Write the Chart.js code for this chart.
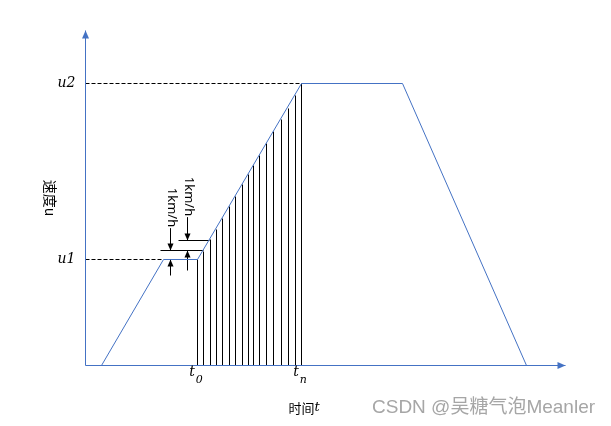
<!DOCTYPE html>
<html>
<head>
<meta charset="utf-8">
<script src="https://cdn.jsdelivr.net/npm/chart.js@4.4.1/dist/chart.umd.min.js"></script>
<style>
  html, body { margin: 0; padding: 0; background: #fff; }
</style>
</head>
<body>
<canvas id="chart" width="611" height="426"></canvas>
<script>
const BLUE = '#4472C4';

// axis ranges (time units, speed units)
const axisMaxT = 48;
const axisMaxV = 33.5;

// speed profile: accelerate, hold u1 briefly, accelerate to u2, cruise, brake
const profileT = [1.6, 7.8, 11.2, 21.6, 31.7, 44.1];
const profileV = [0, 10.6, 10.6, 28.2, 28.2, 0];

const u1 = 10.6, u2 = 28.2;
const t0 = 11.2, tn = 21.6;

// vertical steps between t0 and tn (one per 1km/h)
const stepT = [11.2, 11.8, 12.5, 13.1, 13.7, 14.4, 15.0, 15.7, 16.3, 16.8, 17.4, 18.1, 18.8, 19.6, 20.3, 21.0, 21.6];
const stepV = [10.6, 11.4, 12.6, 13.6, 14.7, 15.9, 16.9, 18.1, 19.1, 20.0, 21.0, 22.2, 23.4, 24.6, 25.7, 27.0, 28.2];

// tick labels
const speedLabels = ['u1', 'u2'];
const speedTicks = [u1, u2];
const timeSubs = ['0', 'n'];
const timeTicks = [t0, tn];

// 1km/h dimension marks
const markV = [11.5, 12.5];
const markFromT = [7.5, 9.3];
const markToT = [11.8, 12.4];
const dimT = [8.5, 10.2];
const dimLow = [u1, 11.5];
const dimHigh = [11.5, 12.5];
const dimTailTop = [13.7, 14.8];
const dimTailBottom = [9.0, 9.5];
const dimText = '1km/h';

function line(data, color, extra) {
  return Object.assign({
    data: data,
    showLine: true,
    borderColor: color,
    backgroundColor: color,
    borderWidth: 1,
    pointRadius: 0,
    fill: false,
    clip: false
  }, extra || {});
}

const datasets = [];

// axes with arrows
datasets.push(line([{x: 0, y: 0}, {x: 0, y: axisMaxV}], BLUE, {arrow: {len: 8, w: 7}}));
datasets.push(line([{x: 0, y: 0}, {x: axisMaxT, y: 0}], BLUE, {arrow: {len: 8, w: 7}}));

// profile
datasets.push(line(profileT.map((t, i) => ({x: t, y: profileV[i]})), BLUE));

// hatching
const hatch = [];
stepT.forEach((t, i) => {
  hatch.push({x: t, y: 0}, {x: t, y: stepV[i]}, {x: t, y: null});
});
datasets.push(line(hatch, '#000'));

// dashed guides to u1, u2
datasets.push(line([{x: 0, y: u2}, {x: tn, y: u2}], '#000', {borderDash: [4, 2]}));
datasets.push(line([{x: 0, y: u1}, {x: profileT[1], y: u1}], '#000', {borderDash: [4, 2]}));

// dimension marks
markV.forEach((v, i) => {
  datasets.push(line([{x: markFromT[i], y: v}, {x: markToT[i], y: v}], '#000'));
});
dimT.forEach((t, i) => {
  datasets.push(line([{x: t, y: dimTailTop[i]}, {x: t, y: dimHigh[i]}], '#000', {arrow: {len: 7, w: 6}}));
  datasets.push(line([{x: t, y: dimTailBottom[i]}, {x: t, y: dimLow[i]}], '#000', {arrow: {len: 7, w: 6}}));
});

const arrowHeads = {
  id: 'arrowHeads',
  afterDatasetsDraw(chart) {
    const ctx = chart.ctx;
    chart.data.datasets.forEach((ds, i) => {
      if (!ds.arrow) return;
      const pts = chart.getDatasetMeta(i).data;
      const a = pts[pts.length - 2], b = pts[pts.length - 1];
      const ang = Math.atan2(b.y - a.y, b.x - a.x);
      ctx.save();
      ctx.translate(b.x, b.y);
      ctx.rotate(ang);
      ctx.beginPath();
      ctx.moveTo(0, 0);
      ctx.lineTo(-ds.arrow.len, -ds.arrow.w / 2);
      ctx.lineTo(-ds.arrow.len, ds.arrow.w / 2);
      ctx.closePath();
      ctx.fillStyle = ds.borderColor;
      ctx.fill();
      ctx.restore();
    });
  }
};

const labels = {
  id: 'labels',
  afterDraw(chart) {
    const ctx = chart.ctx;
    const xs = chart.scales.x, ys = chart.scales.y;
    ctx.save();
    ctx.fillStyle = '#000';

    // u1, u2
    ctx.font = 'italic 14px "DejaVu Serif"';
    ctx.textAlign = 'right';
    ctx.textBaseline = 'middle';
    speedLabels.forEach((s, i) => ctx.fillText(s, xs.left - 10, ys.getPixelForValue(speedTicks[i])));

    // t0, tn
    timeTicks.forEach((t, i) => {
      const px = xs.getPixelForValue(t);
      ctx.font = 'italic 14px "DejaVu Serif"';
      const w1 = ctx.measureText('t').width;
      ctx.font = 'italic 11px "DejaVu Serif"';
      const w2 = ctx.measureText(timeSubs[i]).width;
      const left = px - (w1 + w2) / 2 - 2;
      ctx.textAlign = 'left';
      ctx.textBaseline = 'alphabetic';
      ctx.font = 'italic 14px "DejaVu Serif"';
      ctx.fillText('t', left, ys.bottom + 10);
      ctx.font = 'italic 11px "DejaVu Serif"';
      ctx.fillText(timeSubs[i], left + w1 + 1, ys.bottom + 17);
    });

    // axis titles
    ctx.font = '13px "Noto Sans CJK SC"';
    const wA = ctx.measureText('时间').width;
    ctx.font = 'italic 13px "DejaVu Serif"';
    const wB = ctx.measureText('t').width;
    let tx = 304 - (wA + wB) / 2;
    ctx.textAlign = 'left';
    ctx.textBaseline = 'middle';
    ctx.font = '13px "Noto Sans CJK SC"';
    ctx.fillText('时间', tx, 408);
    ctx.font = 'italic 13px "DejaVu Serif"';
    ctx.fillText('t', tx + wA, 408);

    ctx.save();
    ctx.translate(50, 198);
    ctx.rotate(Math.PI / 2);
    ctx.textAlign = 'center';
    ctx.textBaseline = 'middle';
    ctx.font = '14px "Noto Sans CJK SC"';
    ctx.fillText('速度u', 0, 0);
    ctx.restore();

    // 1km/h labels
    ctx.font = '13px "Noto Sans"';
    dimT.forEach((t, i) => {
      const px = xs.getPixelForValue(t) + 1;
      const py = ys.getPixelForValue(dimTailTop[i]) - 21;
      ctx.save();
      ctx.translate(px, py);
      ctx.rotate(Math.PI / 2);
      ctx.textAlign = 'center';
      ctx.textBaseline = 'middle';
      ctx.fillText(dimText, 0, 0);
      ctx.restore();
    });

    // watermark
    ctx.font = '19px "Liberation Sans", "Noto Sans CJK SC"';
    ctx.fillStyle = '#a6a6a6';
    ctx.textAlign = 'left';
    ctx.textBaseline = 'middle';
    ctx.fillText('CSDN @吴糖气泡Meanler', 372, 408);
    ctx.restore();
  }
};

const chart = new Chart(document.getElementById('chart').getContext('2d'), {
  type: 'scatter',
  data: { datasets: datasets },
  options: {
    responsive: false,
    animation: false,
    events: [],
    layout: { padding: { left: 85.5, right: 45.5, top: 30.5, bottom: 60.5 } },
    plugins: { legend: { display: false }, tooltip: { enabled: false } },
    scales: {
      x: { type: 'linear', min: 0, max: axisMaxT, display: false },
      y: { type: 'linear', min: 0, max: axisMaxV, display: false }
    }
  },
  plugins: [arrowHeads, labels]
});
</script>
</body>
</html>
